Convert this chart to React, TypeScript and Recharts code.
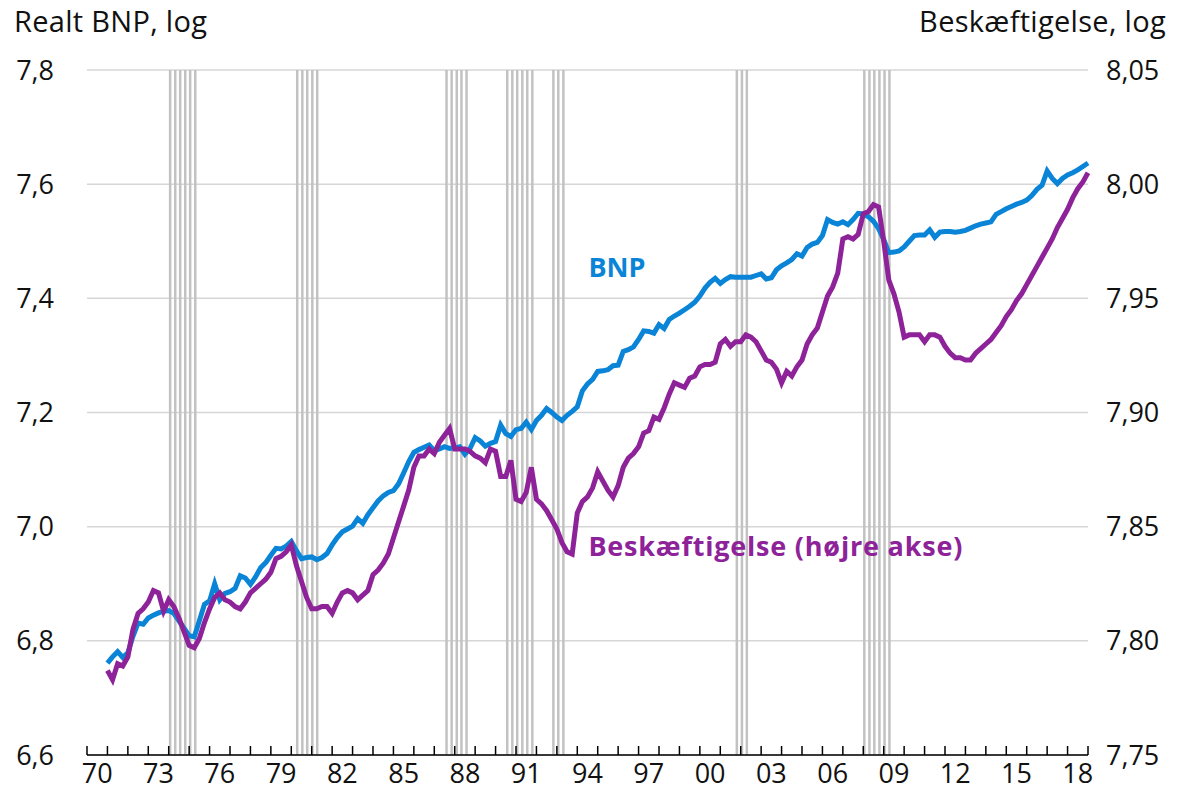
import React from "react"
import {
  LineChart,
  Line,
  XAxis,
  YAxis,
  CartesianGrid,
  ReferenceLine,
  ReferenceDot,
} from "recharts"

// Realt BNP (log), kvartalsvis fra 1971K1
const bnp = [
  6.761, 6.772, 6.781, 6.771,
  6.779, 6.808, 6.831, 6.829,
  6.840, 6.845, 6.849, 6.852,
  6.853, 6.848, 6.835, 6.822,
  6.809, 6.807, 6.835, 6.864,
  6.870, 6.900, 6.872, 6.883,
  6.886, 6.892, 6.914, 6.910,
  6.899, 6.912, 6.928, 6.937,
  6.950, 6.962, 6.961, 6.966,
  6.974, 6.958, 6.944, 6.946,
  6.947, 6.942, 6.946, 6.953,
  6.968, 6.981, 6.991, 6.996,
  7.001, 7.014, 7.006, 7.021,
  7.033, 7.045, 7.054, 7.060,
  7.063, 7.075, 7.094, 7.114,
  7.130, 7.135, 7.139, 7.143,
  7.133, 7.136, 7.140, 7.137,
  7.138, 7.140, 7.127, 7.137,
  7.156, 7.150, 7.141, 7.146,
  7.149, 7.178, 7.163, 7.158,
  7.170, 7.172, 7.183, 7.170,
  7.186, 7.195, 7.207, 7.200,
  7.192, 7.186, 7.195, 7.202,
  7.210, 7.238, 7.250, 7.258,
  7.272, 7.273, 7.275, 7.282,
  7.283, 7.307, 7.310, 7.315,
  7.328, 7.343, 7.342, 7.339,
  7.354, 7.347, 7.363, 7.369,
  7.374, 7.380, 7.386, 7.393,
  7.404, 7.418, 7.428, 7.435,
  7.426, 7.433, 7.438, 7.437,
  7.437, 7.437, 7.437, 7.440,
  7.443, 7.434, 7.436, 7.450,
  7.457, 7.462, 7.468, 7.478,
  7.474, 7.489, 7.495, 7.498,
  7.510, 7.538, 7.533, 7.530,
  7.534, 7.529, 7.538, 7.549,
  7.548, 7.543, 7.535, 7.522,
  7.503, 7.480, 7.481, 7.483,
  7.490, 7.500, 7.510, 7.511,
  7.511, 7.520, 7.507, 7.516,
  7.517, 7.517, 7.516, 7.517,
  7.519, 7.523, 7.527, 7.530,
  7.532, 7.534, 7.547, 7.552,
  7.557, 7.561, 7.565, 7.568,
  7.572, 7.580, 7.591, 7.598,
  7.623, 7.610, 7.601, 7.610,
  7.616, 7.620, 7.625, 7.631,
  7.637,
]

// Beskæftigelse (log), højre akse
const beskaeftigelse = [
  7.787, 7.783, 7.790, 7.789,
  7.793, 7.805, 7.812, 7.814,
  7.817, 7.822, 7.821, 7.813,
  7.818, 7.815, 7.810, 7.804,
  7.798, 7.797, 7.801, 7.808,
  7.814, 7.819, 7.821, 7.818,
  7.817, 7.815, 7.814, 7.817,
  7.821, 7.823, 7.825, 7.827,
  7.830, 7.836, 7.837, 7.839,
  7.842, 7.833, 7.826, 7.819,
  7.814, 7.814, 7.815, 7.815,
  7.812, 7.817, 7.821, 7.822,
  7.821, 7.818, 7.820, 7.822,
  7.829, 7.831, 7.834, 7.838,
  7.845, 7.852, 7.859, 7.866,
  7.876, 7.881, 7.881, 7.884,
  7.882, 7.887, 7.890, 7.893,
  7.884, 7.884, 7.884, 7.883,
  7.881, 7.880, 7.878, 7.884,
  7.883, 7.872, 7.872, 7.879,
  7.862, 7.861, 7.865, 7.876,
  7.862, 7.860, 7.857, 7.853,
  7.849, 7.843, 7.839, 7.838,
  7.856, 7.861, 7.863, 7.867,
  7.874, 7.870, 7.866, 7.863,
  7.868, 7.876, 7.880, 7.882,
  7.885, 7.891, 7.892, 7.898,
  7.897, 7.902, 7.908, 7.913,
  7.912, 7.911, 7.915, 7.916,
  7.920, 7.921, 7.921, 7.922,
  7.930, 7.932, 7.929, 7.931,
  7.931, 7.934, 7.933, 7.931,
  7.927, 7.923, 7.922, 7.919,
  7.913, 7.918, 7.916, 7.920,
  7.923, 7.930, 7.934, 7.937,
  7.944, 7.951, 7.955, 7.961,
  7.976, 7.977, 7.976, 7.978,
  7.987, 7.988, 7.991, 7.990,
  7.975, 7.958, 7.952, 7.944,
  7.933, 7.934, 7.934, 7.934,
  7.931, 7.934, 7.934, 7.933,
  7.929, 7.926, 7.924, 7.924,
  7.923, 7.923, 7.926, 7.928,
  7.930, 7.932, 7.935, 7.938,
  7.942, 7.945, 7.949, 7.952,
  7.956, 7.960, 7.964, 7.968,
  7.972, 7.976, 7.981, 7.985,
  7.989, 7.994, 7.998, 8.001,
  8.005,
]

// recessionskvartaler (grå lodrette streger)
const recessions = [
  1974.07, 1974.32, 1974.56, 1974.81, 1975.05, 1975.3,
  1980.29, 1980.54, 1980.78, 1981.03, 1981.27,
  1987.6, 1987.85, 1988.1, 1988.33, 1988.58,
  1990.57, 1990.82, 1991.06, 1991.31, 1991.55, 1991.8,
  1992.83, 1993.07, 1993.32,
  2001.81, 2002.06, 2002.3,
  2008.05, 2008.3, 2008.54, 2008.79, 2009.04, 2009.28,
]

const yearTicks = Array.from({ length: 50 }, (_, i) => 1970 + i)
const labelTicks = Array.from({ length: 17 }, (_, i) => 1970.5 + i * 3)
const leftTicks = [6.6, 6.8, 7.0, 7.2, 7.4, 7.6, 7.8]
const rightTicks = [7.75, 7.8, 7.85, 7.9, 7.95, 8.0, 8.05]

const data = bnp.map((v, i) => ({
  t: 1971 + i / 4,
  bnp: v,
  emp: beskaeftigelse[i],
}))

const FONT = "'Open Sans', Lato, sans-serif"
const BLUE = "#0a84d6"
const PURPLE = "#8e2299"
const TEXT = "#111"

export default function App() {
  return (
    <div
      style={{
        position: "absolute",
        left: 0,
        top: 0,
        width: 1178,
        height: 798,
        background: "#fff",
        fontFamily: FONT,
      }}
    >
      <div style={{ position: "absolute", left: 14, top: 1, fontSize: 29, color: TEXT, letterSpacing: 0.3 }}>
        Realt BNP, log
      </div>
      <div style={{ position: "absolute", right: 12, top: 1, fontSize: 29, color: TEXT, letterSpacing: 0.3 }}>
        Beskæftigelse, log
      </div>
      <LineChart
        width={1178}
        height={798}
        data={data}
        margin={{ top: 70, right: 0, bottom: 0, left: 0 }}
        style={{ fontFamily: FONT }}
      >
        <CartesianGrid
          yAxisId="left"
          xAxisId="a"
          vertical={false}
          stroke="#d6d6d6"
          strokeWidth={1.5}
        />
        {recessions.map((r) => (
          <ReferenceLine
            key={r}
            x={r}
            xAxisId="a"
            yAxisId="left"
            stroke="#c2c2c2"
            strokeWidth={2.5}
          />
        ))}
        <XAxis
          xAxisId="a"
          dataKey="t"
          type="number"
          domain={[1970, 2019]}
          ticks={yearTicks}
          interval={0}
          height={1}
          tickSize={-9}
          tickFormatter={() => ""}
          tickLine={{ stroke: "#000", strokeWidth: 1.5 }}
          axisLine={{ stroke: "#000", strokeWidth: 1.5 }}
        />
        <XAxis
          xAxisId="b"
          dataKey="t"
          type="number"
          domain={[1970, 2019]}
          ticks={labelTicks}
          interval={0}
          height={42}
          tickSize={0}
          tickMargin={8}
          axisLine={false}
          tickLine={false}
          tick={{ fill: TEXT, fontSize: 27 }}
          tickFormatter={(v: number) => String(Math.floor(v) % 100).padStart(2, "0")}
        />
        <YAxis
          yAxisId="left"
          domain={[6.6, 7.8]}
          ticks={leftTicks}
          width={87}
          axisLine={false}
          tickLine={false}
          tickMargin={27}
          tick={{ fill: TEXT, fontSize: 27 }}
          tickFormatter={(v: number) => v.toFixed(1).replace(".", ",")}
        />
        <YAxis
          yAxisId="right"
          orientation="right"
          domain={[7.75, 8.05]}
          ticks={rightTicks}
          width={90}
          axisLine={false}
          tickLine={false}
          tickMargin={12}
          tick={{ fill: TEXT, fontSize: 27 }}
          tickFormatter={(v: number) => v.toFixed(2).replace(".", ",")}
        />
        <Line
          xAxisId="a"
          yAxisId="left"
          dataKey="bnp"
          stroke={BLUE}
          strokeWidth={5}
          dot={false}
          isAnimationActive={false}
        />
        <Line
          xAxisId="a"
          yAxisId="right"
          dataKey="emp"
          stroke={PURPLE}
          strokeWidth={5}
          dot={false}
          isAnimationActive={false}
        />
        <ReferenceDot
          xAxisId="a"
          yAxisId="left"
          x={1994.3}
          y={7.455}
          r={0}
          label={{ value: "BNP", position: "right", fill: BLUE, fontSize: 27, fontWeight: 700 }}
        />
        <ReferenceDot
          xAxisId="a"
          yAxisId="left"
          x={1994.3}
          y={6.965}
          r={0}
          label={{
            value: "Beskæftigelse (højre akse)",
            position: "right",
            fill: PURPLE,
            fontSize: 27,
            fontWeight: 700,
            letterSpacing: 0.8,
          }}
        />
      </LineChart>
    </div>
  )
}
